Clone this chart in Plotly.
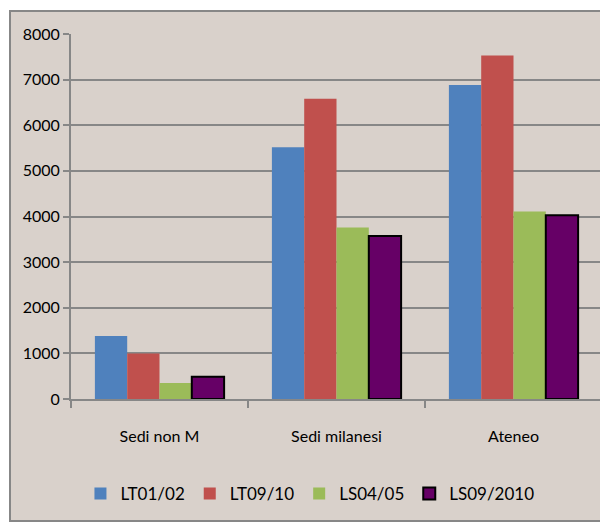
import plotly.graph_objects as go

categories = ["Sedi non M", "Sedi milanesi", "Ateneo"]
series_names = ["LT01/02", "LT09/10", "LS04/05", "LS09/2010"]
lt0102 = [1380, 5520, 6880]
lt0910 = [1000, 6580, 7530]
ls0405 = [350, 3760, 4110]
ls0910 = [490, 3570, 4030]

values = [lt0102, lt0910, ls0405, ls0910]
colors = ["#4F81BD", "#C0504D", "#9BBB59", "#660066"]
bg = "#D9D1CB"
grid = "#878787"
font = "Lato, sans-serif"

fig = go.Figure()
for name, vals, col in zip(series_names, values, colors):
    line = dict(color="black", width=2) if name == "LS09/2010" else dict(color=col, width=0)
    fig.add_trace(go.Bar(x=categories, y=vals, name=name,
                         marker=dict(color=col, line=line)))

# beige chart area with grey border (white strip at top/left)
fig.add_shape(type="rect", xref="paper", yref="paper",
              x0=-61/531, x1=1+5/531, y0=(399-521)/365, y1=(399-11)/365,
              fillcolor=bg, line=dict(color=grid, width=2), layer="below")

fig.update_layout(
    width=608, height=525,
    margin=dict(l=63, r=14, t=26, b=134),
    paper_bgcolor="white", plot_bgcolor=bg,
    barmode="group", bargap=0.27, bargroupgap=0,
    font=dict(family=font, size=16, color="black"),
    showlegend=True,
    legend=dict(orientation="h", x=0.45, xanchor="center", y=-0.26, yanchor="middle",
                bgcolor="rgba(0,0,0,0)", font=dict(size=17), itemwidth=30,
                traceorder="normal"),
)
fig.update_yaxes(range=[0, 8000], dtick=1000, showgrid=True, gridcolor=grid, gridwidth=2,
                 showline=True, linecolor=grid, linewidth=2, ticks="outside",
                 tickcolor=grid, ticklen=6, tickwidth=2, zeroline=False)
fig.update_xaxes(showline=True, linecolor=grid, linewidth=2, ticks="outside",
                 tickson="boundaries", tickcolor=grid, ticklen=7, tickwidth=2,
                 ticklabelstandoff=22)

fig.write_html("out.html")
